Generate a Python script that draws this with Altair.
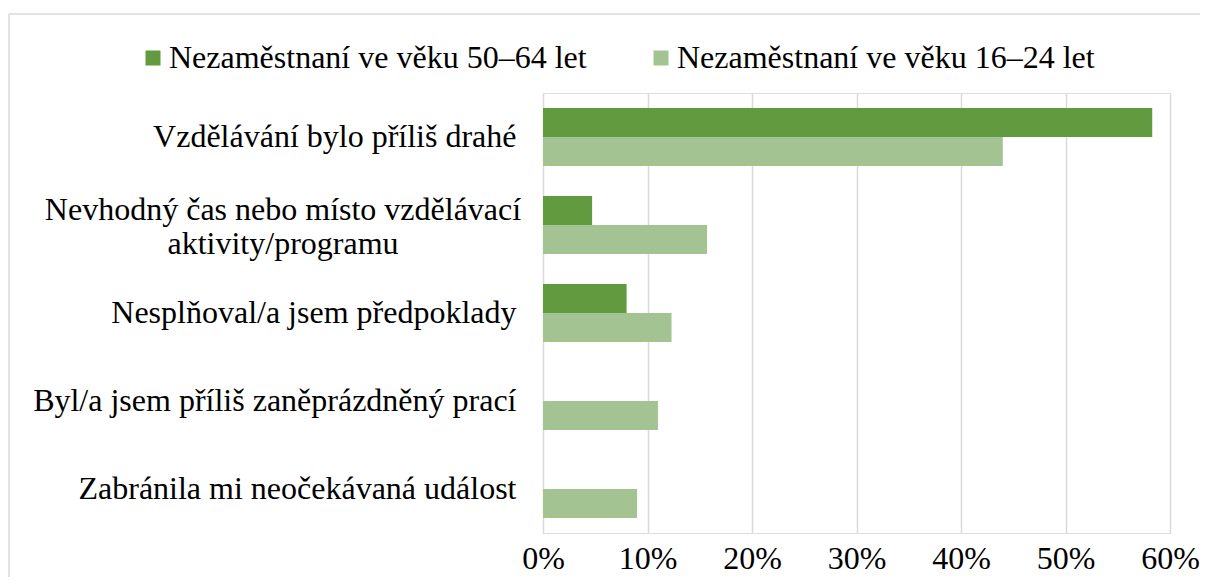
import altair as alt
import pandas as pd

categories = [
    "Vzdělávání bylo příliš drahé",
    "Nevhodný čas nebo místo vzdělávací aktivity/programu",
    "Nesplňoval/a jsem předpoklady",
    "Byl/a jsem příliš zaněprázdněný prací",
    "Zabránila mi neočekávaná událost",
]
series = ["Nezaměstnaní ve věku 50–64 let", "Nezaměstnaní ve věku 16–24 let"]
values_50_64 = [0.583, 0.047, 0.080, 0.0, 0.0]
values_16_24 = [0.440, 0.157, 0.123, 0.110, 0.090]
x_ticks = [0, 0.1, 0.2, 0.3, 0.4, 0.5, 0.6]
wrapped_label = ["Nevhodný čas nebo místo vzdělávací", "aktivity/programu"]

colors = ["#629a3f", "#a3c492"]
FONT = "Liberation Serif"
FS = 32

rows = []
for c, a, b in zip(categories, values_50_64, values_16_24):
    rows.append({"cat": c, "series": series[0], "value": a})
    rows.append({"cat": c, "series": series[1], "value": b})
df = pd.DataFrame(rows)

long_cat = categories[1]

yscale = alt.Scale(domain=categories, paddingInner=0.34, paddingOuter=0.17)

bars = alt.Chart(df).mark_bar().encode(
    y=alt.Y("cat:N", scale=yscale, sort=categories, title=None,
            axis=alt.Axis(labelExpr=f"datum.value == '{long_cat}' ? '' : datum.label",
                          labelFont=FONT, labelFontSize=FS, labelColor="#000000",
                          labelPadding=27, ticks=False, domain=False, grid=False,
                          labelLimit=600)),
    yOffset=alt.YOffset("series:N", sort=series, scale=alt.Scale(domain=series)),
    x=alt.X("value:Q", scale=alt.Scale(domain=[0, 0.6], nice=False), title=None,
            axis=alt.Axis(values=x_ticks, format=".0%", labelFont=FONT, labelFontSize=FS,
                          labelColor="#000000", labelPadding=10, labelFlush=False,
                          ticks=False, domain=False,
                          grid=True, gridColor="#d9d9d9", gridWidth=1.5)),
    color=alt.Color("series:N", scale=alt.Scale(domain=series, range=colors), title=None,
                    legend=alt.Legend(orient="none", legendX=-406, legendY=-51,
                                      direction="horizontal", symbolType="square",
                                      symbolSize=225, symbolStrokeWidth=0,
                                      labelFont=FONT, labelFontSize=FS, labelColor="#000000",
                                      labelOffset=0, columnPadding=58, labelLimit=700,
                                      padding=0)),
)

wrap_df = pd.DataFrame({"cat": [long_cat], "label": [wrapped_label]})
wrap_text = alt.Chart(wrap_df).mark_text(
    font=FONT, fontSize=FS, color="#000000", align="center", baseline="middle",
    lineHeight=34, dy=-15,
).encode(
    y=alt.Y("cat:N", scale=yscale, sort=categories),
    x=alt.value(-260),
    text="label",
)

frame_left = alt.Chart(pd.DataFrame({"k": [0]})).mark_rule(color="#d9d9d9", strokeWidth=1.5).encode(
    x=alt.value(-534), y=alt.value(-79), y2=alt.value(500)
)
frame_top = alt.Chart(pd.DataFrame({"k": [0]})).mark_rule(color="#d9d9d9", strokeWidth=1.5).encode(
    x=alt.value(-534), x2=alt.value(680), y=alt.value(-79)
)

chart = alt.layer(frame_left, frame_top, bars, wrap_text).properties(
    width=627, height=440,
    autosize=alt.AutoSizeParams(type="none"),
    padding={"left": 535, "top": 85, "right": 30, "bottom": 44},
).configure_view(stroke=None).configure(background="white")

chart.save("out.html", embed_options={"renderer": "svg", "actions": False})
